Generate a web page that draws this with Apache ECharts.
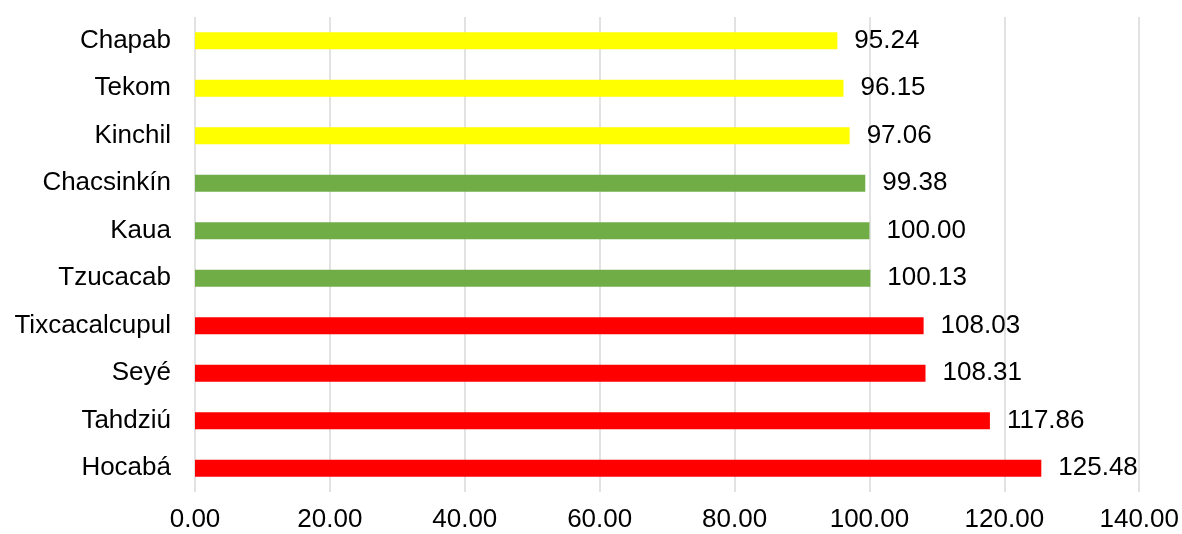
<!DOCTYPE html>
<html>
<head>
<meta charset="utf-8">
<script src="https://cdn.jsdelivr.net/npm/echarts@6/dist/echarts.min.js"></script>
<style>
html,body{margin:0;padding:0;background:#fff;}
#c{width:1182px;height:534px;}
</style>
</head>
<body>
<div id="c"></div>
<script>
const categories = ["Chapab","Tekom","Kinchil","Chacsinkín","Kaua","Tzucacab","Tixcacalcupul","Seyé","Tahdziú","Hocabá"];
const values = [95.24, 96.15, 97.06, 99.38, 100.00, 100.13, 108.03, 108.31, 117.86, 125.48];
const groups = ["yellow","yellow","yellow","green","green","green","red","red","red","red"];
const xTicks = [0, 20, 40, 60, 80, 100, 120, 140];

const colorMap = {yellow:"#FFFF00", green:"#70AD47", red:"#FF0000"};
const FONT = "'Liberation Sans', Arial, sans-serif";

const chart = echarts.init(document.getElementById('c'));
chart.setOption({
  animation:false,
  grid:{left:195,right:41,top:17,bottom:42,containLabel:false},
  xAxis:{
    type:'value', min:xTicks[0], max:xTicks[xTicks.length-1], interval:xTicks[1]-xTicks[0],
    axisLine:{show:false}, axisTick:{show:false},
    splitLine:{show:true,lineStyle:{color:'#d9d9d9',width:1.5}},
    axisLabel:{color:'#000',fontFamily:FONT,fontSize:26,margin:15,formatter:v=>v.toFixed(2)}
  },
  yAxis:{
    type:'category', data:categories, inverse:true,
    axisLine:{show:false}, axisTick:{show:false},
    axisLabel:{color:'#000',fontFamily:FONT,fontSize:26,margin:24}
  },
  series:[{
    type:'bar',
    barWidth:17,
    data:values.map((v,i)=>({value:v,itemStyle:{color:colorMap[groups[i]]}})),
    label:{show:true,position:'right',distance:17,color:'#000',fontFamily:FONT,fontSize:26,formatter:p=>p.value.toFixed(2)}
  }]
});
</script>
</body>
</html>
